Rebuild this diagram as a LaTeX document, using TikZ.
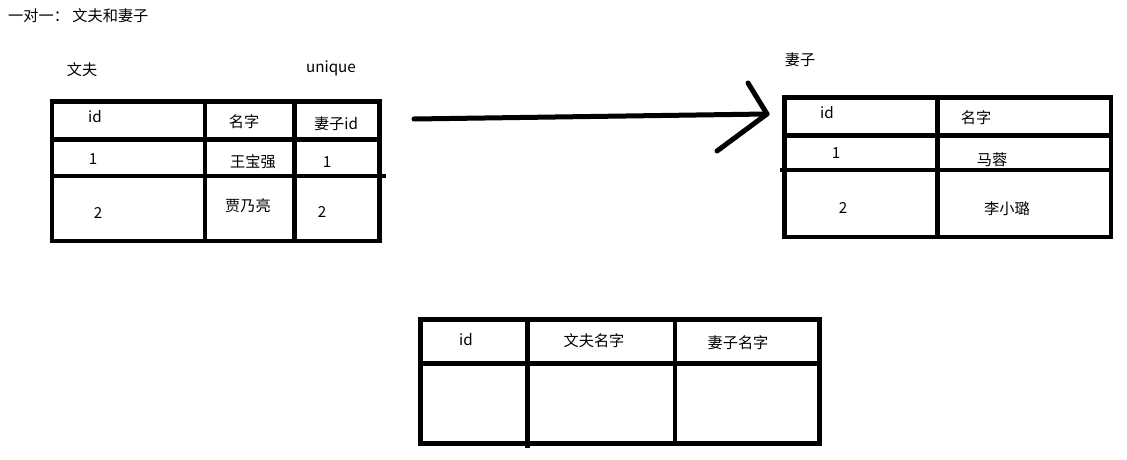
\documentclass[tikz,border=0pt]{standalone}
\usepackage{fontspec}
\setmainfont{Noto Sans CJK SC}
\begin{document}
\begin{tikzpicture}[x=1pt,y=-1pt,
  grid/.style={line width=4.6pt,line cap=rect},
  txt/.style={font=\fontsize{15.2}{16}\selectfont,inner sep=0pt,anchor=center},
  pen/.style={line width=5pt,line cap=round}]
\useasboundingbox (0,0) rectangle (1127,460);
\fill[white] (0,0) rectangle (1127,460);
% title
\node[txt,anchor=west] (title) at (8,16) {一对一： 文夫和妻子};
% husband table
\node[txt] (hlabel) at (82,70) {文夫};
\node[txt] (uniq) at (331,68) {unique};
\draw[grid] (52,101.5) rectangle (379.5,241);
\draw[grid] (205,101.5) -- (205,241);
\draw[grid] (294.5,101.5) -- (294.5,241);
\draw[grid] (52,139.5) -- (379.5,139.5);
\draw[grid] (52,176) -- (384,176);
\node[txt] (h11) at (95,117) {id};
\node[txt] (h12) at (244,122) {名字};
\node[txt] (h13) at (336,124) {妻子id};
\node[txt] (h21) at (93,159) {1};
\node[txt] (h22) at (253,162) {王宝强};
\node[txt] (h23) at (327,162) {1};
\node[txt] (h31) at (98,213) {2};
\node[txt] (h32) at (248,206) {贾乃亮};
\node[txt] (h33) at (322,212) {2};
% arrow
\coordinate (astart) at (414,119);
\coordinate (atip) at (767,114);
\coordinate (abarbA) at (748,83);
\coordinate (abarbB) at (717,151);
\draw[pen] (astart) -- (atip);
\draw[pen,line join=round] (abarbA) -- (atip) -- (abarbB);
% wife table
\node[txt] (wlabel) at (800,60) {妻子};
\draw[grid] (784.5,97.5) rectangle (1111,237);
\draw[grid] (937.5,97.5) -- (937.5,237);
\draw[grid] (784.5,135.5) -- (1111,135.5);
\draw[grid] (782,170) -- (1111,170);
\node[txt] (w11) at (827,113) {id};
\node[txt] (w12) at (976,118) {名字};
\node[txt] (w21) at (836,153) {1};
\node[txt] (w22) at (992,160) {马蓉};
\node[txt] (w31) at (843,208) {2};
\node[txt] (w32) at (1007,209) {李小璐};
% join table
\draw[grid] (420.5,319.5) rectangle (819.5,443.5);
\draw[grid] (527.5,319.5) -- (527.5,446);
\draw[grid] (675,319.5) -- (675,443.5);
\draw[grid] (420.5,363.5) -- (819.5,363.5);
\node[txt] (j1) at (466,340) {id};
\node[txt] (j2) at (594,341) {文夫名字};
\node[txt] (j3) at (738,343) {妻子名字};
\end{tikzpicture}
\end{document}
